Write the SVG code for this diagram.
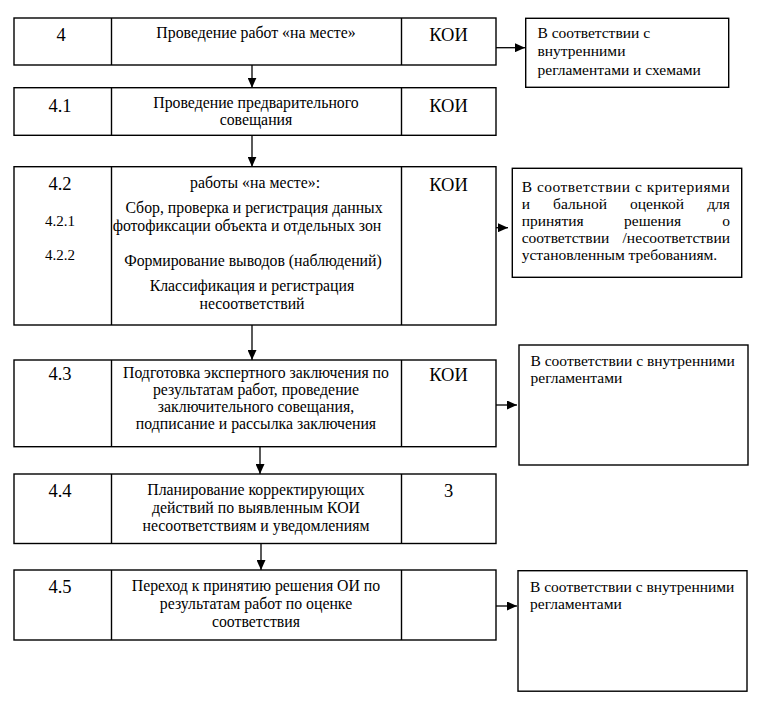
<svg xmlns="http://www.w3.org/2000/svg" width="762" height="707" viewBox="0 0 762 707" font-family="'Liberation Serif','Times New Roman','DejaVu Serif',serif">
<style>
.box{fill:#fff;stroke:#000;stroke-width:1.4}
.div{stroke:#000;stroke-width:1.4}
text{font-family:"Liberation Serif","Times New Roman","DejaVu Serif",serif;fill:#000}
.num{font-size:18.5px;text-anchor:middle}
.sub{font-size:15px;text-anchor:middle}
.txt{font-size:15.8px;text-anchor:middle}
.note{font-size:15.5px}
.end{text-anchor:end}
.conn{stroke:#000;stroke-width:1.3;fill:none;marker-end:url(#ah)}
</style>
<defs>
<marker id="ah" markerUnits="userSpaceOnUse" markerWidth="10" markerHeight="9" refX="10" refY="4.5" orient="auto">
<path d="M0,0 L10,4.5 L0,9 z" fill="#000"/>
</marker>
</defs>
<rect width="762" height="707" fill="#fff"/>

<g id="row4">
<rect class="box" x="14" y="18" width="482" height="47"/>
<line class="div" x1="111.5" y1="18" x2="111.5" y2="65"/>
<line class="div" x1="401.5" y1="18" x2="401.5" y2="65"/>
<text class="num" x="61" y="41">4</text>
<text class="txt" x="256" y="38">Проведение работ «на месте»</text>
<text class="num" x="448.5" y="41">КОИ</text>
</g>

<g id="row41">
<rect class="box" x="14" y="87.7" width="482" height="47.6"/>
<line class="div" x1="111.5" y1="87.7" x2="111.5" y2="135.3"/>
<line class="div" x1="401.5" y1="87.7" x2="401.5" y2="135.3"/>
<text class="num" x="60" y="111.5">4.1</text>
<text class="txt" x="256" y="108">Проведение предварительного</text>
<text class="txt" x="256" y="125">совещания</text>
<text class="num" x="448.5" y="111.5">КОИ</text>
</g>

<g id="row42">
<rect class="box" x="14" y="166.7" width="482" height="158.3"/>
<line class="div" x1="111.5" y1="166.7" x2="111.5" y2="325"/>
<line class="div" x1="401.5" y1="166.7" x2="401.5" y2="325"/>
<text class="num" x="60" y="190">4.2</text>
<text class="sub" x="60" y="226">4.2.1</text>
<text class="sub" x="60" y="259.5">4.2.2</text>
<text class="txt" x="255" y="188">работы «на месте»:</text>
<text class="txt" x="254" y="213">Сбор, проверка и регистрация данных</text>
<text class="txt" x="247" y="230.5">фотофиксации объекта и отдельных зон</text>
<text class="txt" x="253" y="265.5">Формирование выводов (наблюдений)</text>
<text class="txt" x="252" y="291">Классификация и регистрация</text>
<text class="txt" x="252" y="308.5">несоответствий</text>
<text class="num" x="448.5" y="191">КОИ</text>
</g>

<g id="row43">
<rect class="box" x="14" y="360" width="482" height="86.7"/>
<line class="div" x1="111.5" y1="360" x2="111.5" y2="446.7"/>
<line class="div" x1="401.5" y1="360" x2="401.5" y2="446.7"/>
<text class="num" x="60" y="380">4.3</text>
<text class="txt" x="256" y="378">Подготовка экспертного заключения по</text>
<text class="txt" x="256" y="395">результатам работ, проведение</text>
<text class="txt" x="256" y="412">заключительного совещания,</text>
<text class="txt" x="256" y="429">подписание и рассылка заключения</text>
<text class="num" x="448.5" y="381">КОИ</text>
</g>

<g id="row44">
<rect class="box" x="14" y="474" width="482" height="69.5"/>
<line class="div" x1="111.5" y1="474" x2="111.5" y2="543.5"/>
<line class="div" x1="401.5" y1="474" x2="401.5" y2="543.5"/>
<text class="num" x="60" y="497">4.4</text>
<text class="txt" x="256" y="495">Планирование корректирующих</text>
<text class="txt" x="256" y="513">действий по выявленным КОИ</text>
<text class="txt" x="256" y="531">несоответствиям и уведомлениям</text>
<text class="num" x="448.5" y="497">3</text>
</g>

<g id="row45">
<rect class="box" x="14" y="570" width="482" height="70"/>
<line class="div" x1="111.5" y1="570" x2="111.5" y2="640"/>
<line class="div" x1="401.5" y1="570" x2="401.5" y2="640"/>
<text class="num" x="60" y="593">4.5</text>
<text class="txt" x="256" y="591">Переход к принятию решения ОИ по</text>
<text class="txt" x="256" y="609">результатам работ по оценке</text>
<text class="txt" x="256" y="627">соответствия</text>
</g>

<g id="note1">
<rect class="box" x="525.7" y="18.3" width="203" height="69"/>
<text class="note" x="537.5" y="38">В соответствии с</text>
<text class="note" x="537.5" y="56">внутренними</text>
<text class="note" x="537.5" y="75">регламентами и схемами</text>
</g>

<g id="note2">
<rect class="box" x="512.3" y="168.3" width="229.4" height="109"/>
<text class="note" x="521.7" y="192" textLength="208" lengthAdjust="spacing">В соответствии с критериями</text>
<text class="note" x="521.7" y="209">и</text>
<text class="note" x="553" y="209">бальной</text>
<text class="note" x="630" y="209">оценкой</text>
<text class="note end" x="730" y="209">для</text>
<text class="note" x="521.7" y="226">принятия</text>
<text class="note" x="624" y="226">решения</text>
<text class="note end" x="730" y="226">о</text>
<text class="note" x="521.7" y="243">соответствии</text>
<text class="note end" x="730" y="243">/несоответствии</text>
<text class="note" x="521.7" y="260">установленным требованиям.</text>
</g>

<g id="note3">
<rect class="box" x="519" y="345" width="229" height="120"/>
<text class="note" x="530.5" y="366">В соответствии с внутренними</text>
<text class="note" x="530.5" y="383">регламентами</text>
</g>

<g id="note4">
<rect class="box" x="518" y="570.7" width="229" height="120.5"/>
<text class="note" x="530" y="592">В соответствии с внутренними</text>
<text class="note" x="530" y="609">регламентами</text>
</g>

<g id="connectors">
<line class="conn" x1="252" y1="65" x2="252" y2="87.7"/>
<line class="conn" x1="252" y1="135.3" x2="252" y2="166.7"/>
<line class="conn" x1="252" y1="325" x2="252" y2="360"/>
<line class="conn" x1="260" y1="446.7" x2="260" y2="474"/>
<line class="conn" x1="261" y1="543.5" x2="261" y2="570"/>
<line class="conn" x1="496" y1="47.7" x2="525" y2="47.7"/>
<line class="conn" x1="496" y1="227.7" x2="508" y2="227.7"/>
<line class="conn" x1="496" y1="405" x2="517" y2="405"/>
<line class="conn" x1="496" y1="606" x2="517" y2="606"/>
</g>
</svg>
